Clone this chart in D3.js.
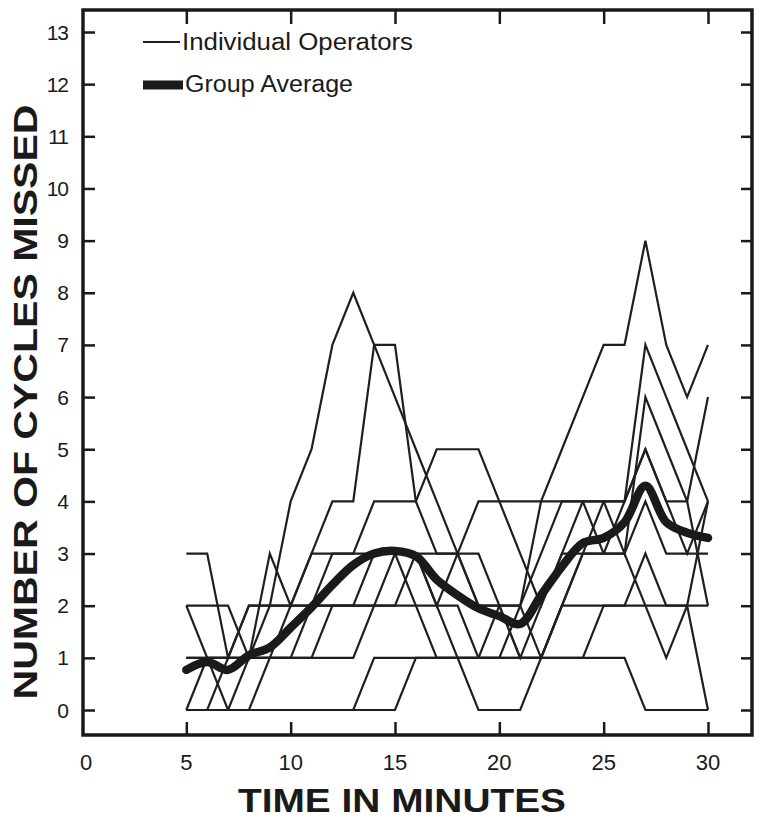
<!DOCTYPE html>
<html>
<head>
<meta charset="utf-8">
<script src="https://cdn.jsdelivr.net/npm/d3@7"></script>
<style>
  body { margin: 0; background: #fff; }
  text { font-family: "Liberation Sans", Arial, sans-serif; fill: #1a1a1a; }
</style>
</head>
<body>
<div id="chart"></div>
<script>
// Minutes sampled for every operator
var minutes = d3.range(5, 31);

// Individual operators, cycles missed per minute (minute 5 .. 30)
var opA = [0, 0, 0, 1, 2, 4, 5, 7, 8, 7, 6, 5, 4, 3, 2, 2, 1, 1, 2, 3, 4, 4, 5, 4, 3, 4];
var opB = [1, 1, 1, 2, 2, 2, 3, 4, 4, 7, 7, 4, 3, 3, 3, 2, 1, 2, 3, 4, 4, 3, 6, 5, 4, 6];
var opC = [0, 0, 1, 1, 1, 2, 2, 3, 3, 3, 3, 3, 2, 2, 1, 1, 2, 4, 5, 6, 7, 7, 9, 7, 6, 7];
var opD = [2, 2, 2, 1, 3, 2, 3, 3, 3, 4, 4, 4, 5, 5, 5, 4, 3, 2, 3, 3, 3, 4, 7, 6, 5, 4];
var opE = [3, 3, 1, 2, 2, 2, 2, 2, 2, 3, 3, 3, 2, 3, 4, 4, 4, 4, 4, 4, 3, 3, 2, 1, 2, 4];
var opF = [0, 0, 0, 0, 0, 0, 0, 0, 0, 1, 1, 1, 1, 1, 0, 0, 0, 1, 1, 1, 1, 1, 0, 0, 0, 0];
var opG = [1, 1, 0, 0, 1, 1, 1, 1, 1, 2, 2, 2, 1, 1, 1, 1, 1, 1, 2, 3, 3, 3, 4, 3, 3, 3];
var opH = [2, 1, 1, 1, 1, 1, 1, 2, 2, 2, 3, 2, 2, 1, 1, 2, 2, 3, 4, 4, 4, 4, 5, 4, 4, 2];
var opI = [0, 1, 1, 1, 1, 1, 2, 2, 2, 2, 2, 3, 3, 3, 2, 2, 2, 1, 2, 2, 2, 2, 3, 2, 2, 2];
var opJ = [0, 0, 0, 0, 0, 0, 0, 0, 0, 0, 0, 1, 1, 1, 1, 1, 1, 1, 1, 1, 2, 2, 2, 2, 2, 0];
var operators = [opA, opB, opC, opD, opE, opF, opG, opH, opI, opJ];

// Group average
var avgMinutes = [5, 6, 7, 8, 9, 10, 11, 12, 13, 14, 15, 16, 17, 18, 19, 20, 21, 22, 23, 24, 25, 26, 27, 28, 29, 30];
var avgValues = [0.77, 0.92, 0.77, 1.05, 1.2, 1.58, 1.97, 2.4, 2.78, 3.0, 3.05, 2.95, 2.5, 2.2, 1.95, 1.8, 1.65, 2.2, 2.75, 3.2, 3.3, 3.6, 4.3, 3.6, 3.4, 3.3];

// Tick values
var xTicks = [0, 5, 10, 15, 20, 25, 30];
var yTicks = d3.range(0, 14);

var svgWidth = 760;
var svgHeight = 822;

// Frame edges
var frame = { left: 83, right: 752, top: 10, bottom: 735 };

var svg = d3.select("#chart")
  .append("svg")
  .attr("width", svgWidth)
  .attr("height", svgHeight);

var xScale = d3.scaleLinear()
  .domain([0, 30])
  .range([82, 708]);

var yScale = d3.scaleLinear()
  .domain([0, 13])
  .range([710, 32]);

// Frame box (thick like the original drawing)
svg.append("rect")
  .attr("x", frame.left)
  .attr("y", frame.top)
  .attr("width", frame.right - frame.left)
  .attr("height", frame.bottom - frame.top)
  .attr("fill", "none")
  .attr("stroke", "#1a1a1a")
  .attr("stroke-width", 3.5);

// Left axis: inward ticks, labels outside
var leftAxis = d3.axisRight(yScale).tickValues(yTicks).tickSize(12).tickFormat("");
svg.append("g")
  .attr("transform", `translate(${frame.left}, 0)`)
  .call(leftAxis)
  .call(g => g.select(".domain").remove())
  .selectAll("line").attr("stroke", "#1a1a1a").attr("stroke-width", 2.5);

// Right border ticks pointing in
var rightAxis = d3.axisLeft(yScale).tickValues(yTicks).tickSize(11).tickFormat("");
svg.append("g")
  .attr("transform", `translate(${frame.right}, 0)`)
  .call(rightAxis)
  .call(g => g.select(".domain").remove())
  .selectAll("line").attr("stroke", "#1a1a1a").attr("stroke-width", 2.5);

// Bottom axis ticks pointing up
var bottomAxis = d3.axisTop(xScale).tickValues(xTicks.slice(1)).tickSize(13).tickFormat("");
svg.append("g")
  .attr("transform", `translate(0, ${frame.bottom})`)
  .call(bottomAxis)
  .call(g => g.select(".domain").remove())
  .selectAll("line").attr("stroke", "#1a1a1a").attr("stroke-width", 2.5);

// Top border ticks pointing down
var topAxis = d3.axisBottom(xScale).tickValues(xTicks.slice(1)).tickSize(14).tickFormat("");
svg.append("g")
  .attr("transform", `translate(0, ${frame.top})`)
  .call(topAxis)
  .call(g => g.select(".domain").remove())
  .selectAll("line").attr("stroke", "#1a1a1a").attr("stroke-width", 2.5);

// y tick labels
svg.selectAll(".ylab")
  .data(yTicks)
  .enter()
  .append("text")
  .attr("x", 68)
  .attr("y", d => yScale(d))
  .attr("dy", "0.36em")
  .attr("text-anchor", "end")
  .attr("font-size", "21px")
  .attr("letter-spacing", "-1px")
  .text(d => d);

// x tick labels
svg.selectAll(".xlab")
  .data(xTicks)
  .enter()
  .append("text")
  .attr("x", d => xScale(d) + (d === 0 ? 4 : 0))
  .attr("y", 770)
  .attr("text-anchor", "middle")
  .attr("font-size", "22px")
  .text(d => d);

// Individual operator lines
var opLine = d3.line()
  .x((d, i) => xScale(minutes[i]))
  .y(d => yScale(d));

svg.append("g")
  .selectAll("path")
  .data(operators)
  .enter()
  .append("path")
  .attr("d", opLine)
  .attr("fill", "none")
  .attr("stroke", "#1f1f1f")
  .attr("stroke-width", 2.2)
  .attr("stroke-linejoin", "miter");

// Group average, smooth thick curve
var avgLine = d3.line()
  .x((d, i) => xScale(avgMinutes[i]))
  .y(d => yScale(d))
  .curve(d3.curveCatmullRom.alpha(0.5));

svg.append("path")
  .attr("d", avgLine(avgValues))
  .attr("fill", "none")
  .attr("stroke", "#1a1a1a")
  .attr("stroke-width", 8.5)
  .attr("stroke-linecap", "round")
  .attr("stroke-linejoin", "round");

// Legend
svg.append("line")
  .attr("x1", 143).attr("x2", 180)
  .attr("y1", 42).attr("y2", 42)
  .attr("stroke", "#1f1f1f")
  .attr("stroke-width", 2.2);

svg.append("text")
  .attr("x", 182)
  .attr("y", 50)
  .attr("font-size", "23px")
  .attr("textLength", 231)
  .attr("lengthAdjust", "spacingAndGlyphs")
  .text("Individual Operators");

svg.append("line")
  .attr("x1", 143).attr("x2", 183)
  .attr("y1", 85).attr("y2", 85)
  .attr("stroke", "#1a1a1a")
  .attr("stroke-width", 9);

svg.append("text")
  .attr("x", 185)
  .attr("y", 92)
  .attr("font-size", "23px")
  .attr("textLength", 168)
  .attr("lengthAdjust", "spacingAndGlyphs")
  .text("Group  Average");

// x-axis title
svg.append("text")
  .attr("x", 238)
  .attr("y", 812)
  .attr("font-size", "34px")
  .attr("font-weight", "bold")
  .attr("textLength", 328)
  .attr("lengthAdjust", "spacingAndGlyphs")
  .text("TIME  IN  MINUTES");

// y-axis title
svg.append("text")
  .attr("transform", "translate(37, 402) rotate(-90)")
  .attr("text-anchor", "middle")
  .attr("font-size", "34px")
  .attr("font-weight", "bold")
  .attr("textLength", 595)
  .attr("lengthAdjust", "spacingAndGlyphs")
  .text("NUMBER OF CYCLES MISSED");
</script>
</body>
</html>
